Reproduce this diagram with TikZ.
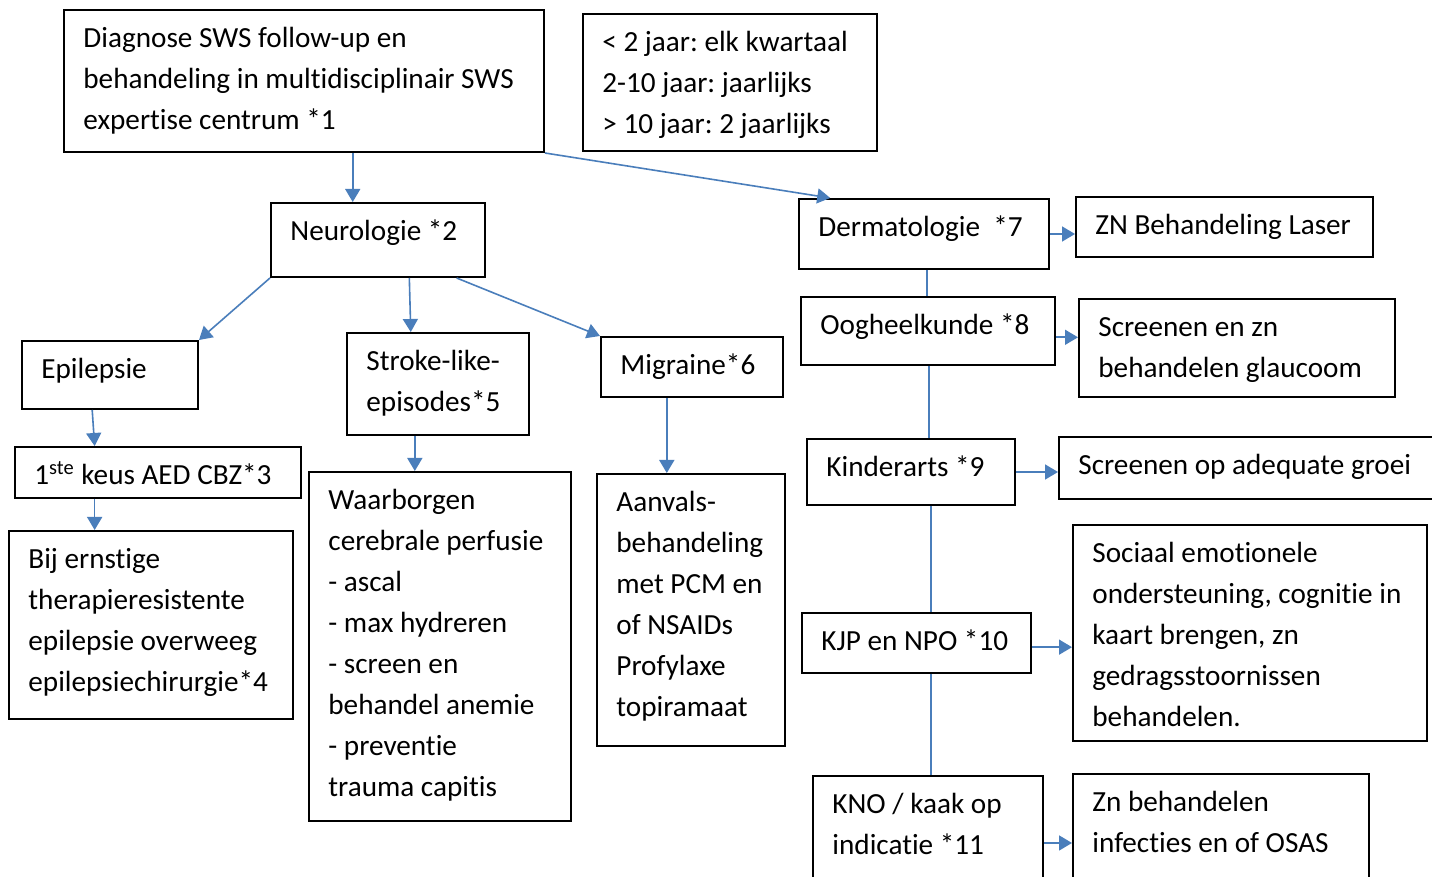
\documentclass[tikz,border=0pt]{standalone}
\usepackage{fontspec}
\setmainfont{Carlito}[Ligatures={NoCommon}]
\frenchspacing
\usetikzlibrary{arrows.meta,calc}
\definecolor{conn}{HTML}{4A7EBB}
\newcommand\myfirststrut{\rule{0pt}{19.25pt}}
\tikzset{
  bx/.style n args={2}{draw=black, line width=1pt, inner sep=0pt, anchor=north west,
    minimum width=#1*0.5pt, minimum height=#2*0.5pt},
  txt/.style={anchor=north west, inner sep=0pt, align=left,
    font=\fontsize{14.6pt}{20.5pt}\selectfont\frenchspacing},
  arr/.style={draw=conn, line width=0.8pt, -{Triangle[length=6.5pt,width=7.5pt]}},
  ln/.style={draw=conn, line width=0.8pt}
}
\begin{document}
\begin{tikzpicture}[x=0.5pt,y=-0.5pt]
\useasboundingbox (0,0) rectangle (1432,877);
\fill[white] (0,0) rectangle (1432,877);
\clip (0,0) rectangle (1432,877);

% boxes
\node[bx={480}{142}] (diag) at (63,9) {};
\node[bx={294}{137}] (age) at (582,13) {};
\node[bx={214}{74}] (neuro) at (270,202) {};
\node[bx={250}{70}] (derm) at (798,198) {};
\node[bx={297}{60}] (laser) at (1075,196) {};
\node[bx={254}{68}] (oog) at (800,296) {};
\node[bx={316}{98}] (glauc) at (1078,298) {};
\node[bx={176}{68}] (epi) at (21,340) {};
\node[bx={182}{102}] (stroke) at (346,332) {};
\node[bx={182}{60}] (migr) at (600,336) {};
\node[bx={286}{51}] (keus) at (14,446) {};
\node[bx={284}{188}] (bij) at (8,530) {};
\node[bx={262}{349}] (waar) at (308,471) {};
\node[bx={188}{272}] (aanv) at (596,473) {};
\node[bx={208}{66}] (kind) at (806,438) {};
\node[bx={400}{62}] (groei) at (1058,436) {};
\node[bx={354}{216}] (soc) at (1072,524) {};
\node[bx={229}{60}] (kjp) at (801,612) {};
\node[bx={230}{130}] (kno) at (812,775) {};
\node[bx={296}{130}] (zn) at (1072,773) {};

% texts
\node[txt] (diagT) at ([xshift=10pt]diag.north west) {\myfirststrut Diagnose SWS follow-up en\\behandeling in multidisciplinair SWS\\expertise centrum *1};
\node[txt] (ageT) at ([xshift=10pt]age.north west) {\myfirststrut < 2 jaar: elk kwartaal\\2-10 jaar: jaarlijks\\> 10 jaar: 2 jaarlijks};
\node[txt] (neuroT) at ([xshift=10pt]neuro.north west) {\myfirststrut Neurologie *2};
\node[txt] (dermT) at ([xshift=10pt]derm.north west) {\myfirststrut Dermatologie~ *7};
\node[txt] (laserT) at ([xshift=10pt]laser.north west) {\myfirststrut ZN Behandeling Laser};
\node[txt] (oogT) at ([xshift=10pt]oog.north west) {\myfirststrut Oogheelkunde *8};
\node[txt] (glaucT) at ([xshift=10pt]glauc.north west) {\myfirststrut Screenen en zn\\behandelen glaucoom};
\node[txt] (epiT) at ([xshift=10pt]epi.north west) {\myfirststrut Epilepsie};
\node[txt] (strokeT) at ([xshift=10pt]stroke.north west) {\myfirststrut Stroke-like-\\episodes*5};
\node[txt] (migrT) at ([xshift=10pt]migr.north west) {\myfirststrut Migraine*6};
\node[txt] (keusT) at ([xshift=10pt]keus.north west) {\myfirststrut 1\textsuperscript{ste} keus AED CBZ*3};
\node[txt] (bijT) at ([xshift=10pt]bij.north west) {\myfirststrut Bij ernstige\\therapieresistente\\epilepsie overweeg\\epilepsiechirurgie*4};
\node[txt] (waarT) at ([xshift=10pt]waar.north west) {\myfirststrut Waarborgen\\cerebrale perfusie\\- ascal\\- max hydreren\\- screen en\\behandel anemie\\- preventie\\trauma capitis};
\node[txt] (aanvT) at ([xshift=10pt]aanv.north west) {\myfirststrut Aanvals-\\behandeling\\met PCM en\\of NSAIDs\\Profylaxe\\topiramaat};
\node[txt] (kindT) at ([xshift=10pt]kind.north west) {\myfirststrut Kinderarts *9};
\node[txt] (groeiT) at ([xshift=10pt]groei.north west) {\myfirststrut Screenen op adequate groei};
\node[txt] (socT) at ([xshift=10pt]soc.north west) {\myfirststrut Sociaal emotionele\\ondersteuning, cognitie in\\kaart brengen, zn\\gedragsstoornissen\\behandelen.};
\node[txt] (kjpT) at ([xshift=10pt]kjp.north west) {\myfirststrut KJP en NPO *10};
\node[txt] (knoT) at ([xshift=10pt]kno.north west) {\myfirststrut KNO / kaak op\\indicatie *11};
\node[txt] (znT) at ([xshift=10pt]zn.north west) {\myfirststrut Zn behandelen\\infecties en of OSAS};

% connector points
\coordinate (c1) at ($(neuro.north west)!0.383!(neuro.north east)$);
\coordinate (c2) at ($(derm.north west)!0.128!(derm.north east)$);
\coordinate (c4a) at ($(neuro.south west)!0.645!(neuro.south east)$);
\coordinate (c4b) at ($(stroke.north west)!0.352!(stroke.north east)$);
\coordinate (c5) at ($(neuro.south west)!0.864!(neuro.south east)$);
\coordinate (c6a) at ($(epi.south west)!0.40!(epi.south east)$);
\coordinate (c6b) at ($(keus.north west)!0.28!(keus.north east)$);
\coordinate (c7) at ($(keus.south west)!0.28!(keus.south east)$);
\coordinate (c8) at ($(stroke.south west)!0.374!(stroke.south east)$);
\coordinate (c9) at ($(migr.south west)!0.363!(migr.south east)$);
\coordinate (c10) at ($(derm.south west)!0.512!(derm.south east)$);
\coordinate (c11) at ($(oog.south west)!0.504!(oog.south east)$);
\coordinate (c12) at ($(kind.south west)!0.596!(kind.south east)$);
\coordinate (c13) at ($(kjp.south west)!0.563!(kjp.south east)$);
\coordinate (c15) at ($(oog.north east)!0.59!(oog.south east)$);
\coordinate (c17) at ($(kjp.north east)!0.567!(kjp.south east)$);
\coordinate (c18) at ($(kno.north east)!0.515!(kno.south east)$);

% connectors
\draw[arr] (diag.south -| c1) -- (c1);
\draw[arr] (diag.south east) -- (c2);
\draw[arr] (neuro.south west) -- (epi.north east);
\draw[arr] (c4a) -- (c4b);
\draw[arr] (c5) -- (migr.north west);
\draw[arr] (c6a) -- (c6b);
\draw[arr] (c7) -- (bij.north -| c7);
\draw[arr] (c8) -- (waar.north -| c8);
\draw[arr] (c9) -- (aanv.north -| c9);
\draw[ln] (c10) -- (oog.north -| c10);
\draw[ln] (c11) -- (kind.north -| c11);
\draw[ln] (c12) -- (kjp.north -| c12);
\draw[ln] (c13) -- (kno.north -| c13);
\draw[arr] (derm.east) -- (derm.east -| laser.west);
\draw[arr] (c15) -- (c15 -| glauc.west);
\draw[arr] (kind.east) -- (kind.east -| groei.west);
\draw[arr] (c17) -- (c17 -| soc.west);
\draw[arr] (c18) -- (c18 -| zn.west);
\end{tikzpicture}
\end{document}
